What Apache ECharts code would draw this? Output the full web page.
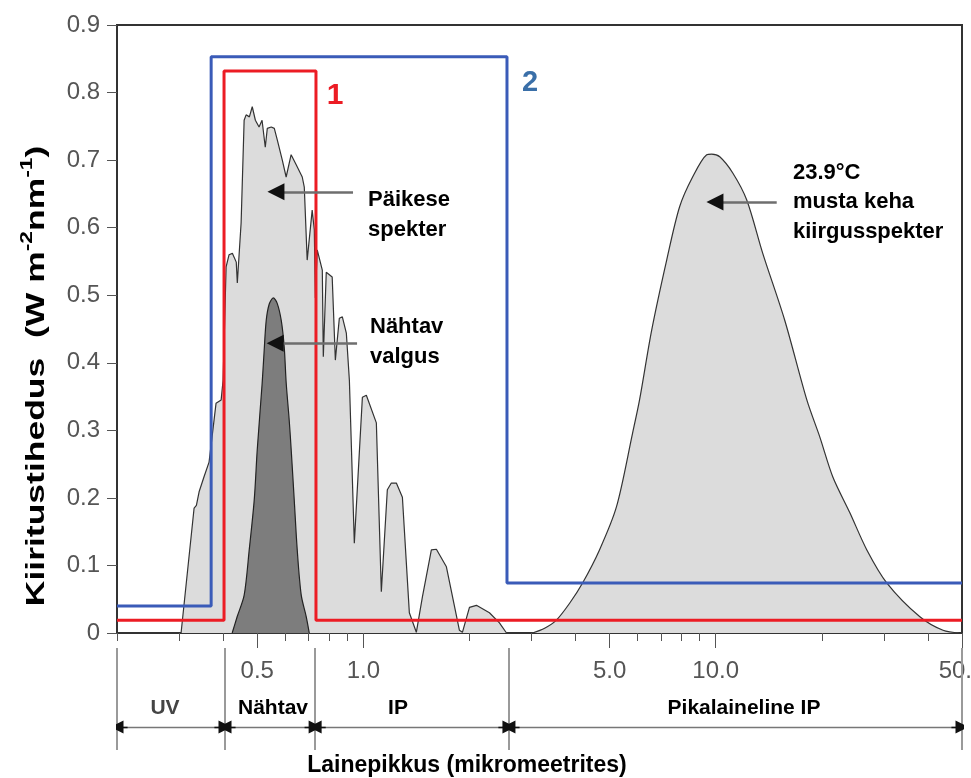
<!DOCTYPE html>
<html><head><meta charset="utf-8">
<script src="https://cdn.jsdelivr.net/npm/echarts@6.0.0/dist/echarts.min.js"></script>
<style>html,body{margin:0;padding:0;background:#fff}#c{width:971px;height:778px}</style>
</head><body><div id="c"></div>
<script>
// ---- data (wavelength in micrometres, irradiance W m-2 nm-1) ----
const xMinWl = 0.2, xMaxWl = 50;
const yTicks = [0, 0.1, 0.2, 0.3, 0.4, 0.5, 0.6, 0.7, 0.8, 0.9];
const xLabelWl = [0.5, 1, 5, 10, 50];
const xMinorWl = [0.2,0.3,0.4,0.5,0.6,0.7,0.8,0.9,1,2,3,4,5,6,7,8,9,10,20,30,40,50];

const sunWl = [0.304,0.331,0.336,0.342,0.353,0.365,0.382,0.395,0.400,0.408,0.416,0.425,0.436,0.439,0.450,0.459,0.465,0.475,0.484,0.494,0.506,0.516,0.527,0.534,0.548,0.559,0.570,0.589,0.604,0.624,0.645,0.671,0.680,0.693,0.716,0.726,0.731,0.740,0.765,0.770,0.785,0.816,0.833,0.855,0.872,0.895,0.913,0.943,0.994,1.020,1.089,1.125,1.170,1.201,1.241,1.291,1.351,1.414,1.471,1.560,1.612,1.721,1.874,1.911,2.001,2.094,2.280,2.434,2.549];
const sunVal = [0,0.185,0.189,0.209,0.231,0.253,0.340,0.345,0.374,0.542,0.560,0.562,0.549,0.518,0.607,0.759,0.767,0.764,0.779,0.759,0.749,0.759,0.719,0.747,0.749,0.747,0.730,0.700,0.675,0.708,0.693,0.675,0.660,0.552,0.626,0.597,0.496,0.567,0.537,0.409,0.534,0.527,0.404,0.466,0.468,0.444,0.374,0.133,0.349,0.352,0.311,0.061,0.212,0.222,0.222,0.201,0.030,0.001,0.053,0.123,0.124,0.098,0.004,0.001,0.038,0.041,0.030,0.015,0];

const visWl = [0.4245,0.4385,0.4591,0.4745,0.4903,0.500,0.5164,0.5233,0.5303,0.5408,0.5553,0.5697,0.5848,0.5965,0.6042,0.6162,0.6243,0.6368,0.6494,0.6666,0.6888,0.7025];
const visVal = [0,0.024,0.056,0.123,0.197,0.271,0.370,0.419,0.463,0.487,0.496,0.488,0.463,0.423,0.370,0.315,0.271,0.197,0.123,0.056,0.024,0];

const bbWl = [3.02,3.27,3.53,3.85,4.19,4.68,5.23,5.81,6.08,6.58,7.26,7.90,8.60,9.43,9.74,10.27,11.18,12.25,13.60,15.70,18.14,19.75,21.50,24.03,26.85,30.61,37.97,44.16,49.34];
const bbVal = [0,0.007,0.019,0.044,0.074,0.123,0.187,0.296,0.345,0.448,0.552,0.631,0.675,0.708,0.709,0.705,0.681,0.641,0.562,0.463,0.345,0.290,0.231,0.178,0.123,0.074,0.024,0.004,0];

const box1Wl = [0.2,0.4025,0.4025,0.734,0.734,50];
const box1Val = [0.019,0.019,0.832,0.832,0.019,0.019];
const box2Wl = [0.2,0.370,0.370,2.557,2.557,50];
const box2Val = [0.040,0.040,0.853,0.853,0.074,0.074];

// annotation arrows: [tailWl, tipWl, value]
const arrowSun = [0.935, 0.565, 0.653];
const arrowVis = [0.960, 0.562, 0.429];
const arrowBB = [14.9, 9.95, 0.638];

const bandEdges = [0.2, 0.405, 0.73, 2.59, 50];
const bandNames = ['UV', 'Nähtav', 'IP', 'Pikalaineline IP'];

// ---- build ----
const L = Math.log10;
const pts = (w, v) => w.map((x, i) => [L(x), v[i]]);
const FONT = '"Liberation Sans", Arial, sans-serif';

const headLen = 0.02; // log units: short black segment hidden under each arrow head
function arrowHeads(list){
  return list.map(a => ({coords: [[L(a[1]) + headLen*(a[0]>a[1]?1:-1), a[2]], [L(a[1]), a[2]]]}));
}
const annLines = [arrowSun, arrowVis, arrowBB].map(a => ({coords: [[L(a[0]), a[2]], [L(a[1]), a[2]]]}));

const bandY = 0.2255;
const bandHead = 0.03;
const bandV = bandEdges.map(b => ({coords: [[L(b), 0], [L(b), 1]]}));
const bandH = [];
const bandHeads = [];
for (let i = 0; i < bandEdges.length - 1; i++) {
  const a = L(bandEdges[i]), b = L(bandEdges[i+1]);
  bandH.push({coords: [[a, bandY], [b, bandY]]});
  bandHeads.push({coords: [[a + bandHead, bandY], [a, bandY]]});
  bandHeads.push({coords: [[b - bandHead, bandY], [b, bandY]]});
}

const chart = echarts.init(document.getElementById('c'), null, {renderer: 'canvas'});
chart.setOption({
  animation: false,
  backgroundColor: '#fff',
  grid: [
    {left: 117, right: 9, top: 25, bottom: 145, show: true, borderColor: '#333', borderWidth: 2,
     backgroundColor: 'transparent', containLabel: false, outerBoundsMode: 'none'},
    {left: 117, right: 9, top: 648, height: 102, show: false, containLabel: false, outerBoundsMode: 'none'}
  ],
  xAxis: [
    {type: 'value', gridIndex: 0, min: L(xMinWl), max: L(xMaxWl), position: 'bottom',
     axisLine: {show: true, onZero: false, lineStyle: {color: '#333', width: 2}},
     axisTick: {show: true, length: 8, lineStyle: {color: '#555', width: 1}, customValues: xMinorWl.map(L)},
     axisLabel: {show: false}, splitLine: {show: false}},
    {type: 'value', gridIndex: 0, min: L(xMinWl), max: L(xMaxWl), position: 'bottom',
     axisLine: {show: false, onZero: false},
     axisTick: {show: true, length: 15, lineStyle: {color: '#555', width: 1}, customValues: xLabelWl.map(L)},
     axisLabel: {show: true, customValues: xLabelWl.map(L), margin: 26, fontSize: 24, color: '#555', fontFamily: FONT,
       formatter: v => Math.pow(10, v).toFixed(1)},
     splitLine: {show: false}},
    {type: 'value', gridIndex: 1, min: L(xMinWl), max: L(xMaxWl), show: false}
  ],
  yAxis: [
    {type: 'value', gridIndex: 0, min: 0, max: 0.9, interval: 0.1, position: 'left',
     axisLine: {show: true, onZero: false, lineStyle: {color: '#333', width: 2}},
     axisTick: {show: true, length: 10, lineStyle: {color: '#555', width: 1}},
     axisLabel: {margin: 17, fontSize: 24, color: '#555', fontFamily: FONT},
     splitLine: {show: false}},
    {type: 'value', gridIndex: 1, min: 0, max: 1, show: false}
  ],
  graphic: [
    {type: 'text', x: 37, y: 376, rotation: Math.PI / 2, scaleX: 1.42,
     style: {text: '{b|Kiiritustihedus  (W m}{s|-2}{b|nm}{s|-1}{b|)}', align: 'center', verticalAlign: 'middle',
       rich: {
         b: {font: 'bold 25px ' + FONT, fill: '#000', lineHeight: 34},
         s: {font: 'bold 16px ' + FONT, fill: '#000', lineHeight: 34, verticalAlign: 'top'}
       }}},
    {type: 'text', x: 368, y: 185, style: {text: 'Päikese\nspekter', font: 'bold 22px ' + FONT, lineHeight: 30, fill: '#000'}},
    {type: 'text', x: 370, y: 312, style: {text: 'Nähtav\nvalgus', font: 'bold 22px ' + FONT, lineHeight: 30, fill: '#000'}},
    {type: 'text', x: 793, y: 158, style: {text: '23.9°C\nmusta keha\nkiirgusspekter', font: 'bold 22px ' + FONT, lineHeight: 29.5, fill: '#000'}},
    {type: 'text', x: 335, y: 96, style: {text: '1', font: 'bold 30px ' + FONT, fill: '#ec1c24', align: 'center', verticalAlign: 'middle'}},
    {type: 'text', x: 530, y: 83, style: {text: '2', font: 'bold 29px ' + FONT, fill: '#3a6fa8', align: 'center', verticalAlign: 'middle'}},
    {type: 'text', x: 165, y: 708, style: {text: bandNames[0], font: 'bold 21px ' + FONT, fill: '#444', align: 'center', verticalAlign: 'middle'}},
    {type: 'text', x: 273, y: 708, style: {text: bandNames[1], font: 'bold 21px ' + FONT, fill: '#000', align: 'center', verticalAlign: 'middle'}},
    {type: 'text', x: 398, y: 708, style: {text: bandNames[2], font: 'bold 21px ' + FONT, fill: '#000', align: 'center', verticalAlign: 'middle'}},
    {type: 'text', x: 744, y: 708, style: {text: bandNames[3], font: 'bold 21px ' + FONT, fill: '#000', align: 'center', verticalAlign: 'middle'}},
    {type: 'text', x: 467, y: 766, style: {text: 'Lainepikkus (mikromeetrites)', font: 'bold 23px ' + FONT, fill: '#000', align: 'center', verticalAlign: 'middle'}}
  ],
  series: [
    {type: 'line', name: 'Päikese spekter', xAxisIndex: 0, yAxisIndex: 0, data: pts(sunWl, sunVal), showSymbol: false, symbol: 'none',
     lineStyle: {color: '#333', width: 1.2}, areaStyle: {color: '#dcdcdc', opacity: 1}, z: 2},
    {type: 'line', name: 'Nähtav valgus', xAxisIndex: 0, yAxisIndex: 0, data: pts(visWl, visVal), showSymbol: false, symbol: 'none', smooth: 0.3,
     lineStyle: {color: '#222', width: 1.2}, areaStyle: {color: '#7d7d7d', opacity: 1}, z: 3},
    {type: 'line', name: 'Must keha', xAxisIndex: 0, yAxisIndex: 0, data: pts(bbWl, bbVal), showSymbol: false, symbol: 'none', smooth: 0.3,
     lineStyle: {color: '#333', width: 1.2}, areaStyle: {color: '#dcdcdc', opacity: 1}, z: 2},
    {type: 'line', name: '2', xAxisIndex: 0, yAxisIndex: 0, data: pts(box2Wl, box2Val), showSymbol: false, symbol: 'none',
     lineStyle: {color: '#3a5bb8', width: 3}, z: 4},
    {type: 'line', name: '1', xAxisIndex: 0, yAxisIndex: 0, data: pts(box1Wl, box1Val), showSymbol: false, symbol: 'none',
     lineStyle: {color: '#ec1c24', width: 3}, z: 5},
    {type: 'lines', coordinateSystem: 'cartesian2d', xAxisIndex: 0, yAxisIndex: 0, data: annLines, symbol: 'none',
     lineStyle: {color: '#6e6e6e', width: 2.5, opacity: 1}, z: 6, silent: true},
    {type: 'lines', coordinateSystem: 'cartesian2d', xAxisIndex: 0, yAxisIndex: 0, data: arrowHeads([arrowSun, arrowVis, arrowBB]),
     symbol: ['none', 'triangle'], symbolSize: [14, 17], symbolOffset: [0, 8.5],
     lineStyle: {color: '#111', width: 2.5, opacity: 1}, z: 7, silent: true},
    {type: 'lines', coordinateSystem: 'cartesian2d', xAxisIndex: 2, yAxisIndex: 1, data: bandV, symbol: 'none',
     lineStyle: {color: '#9a9a9a', width: 2, opacity: 1}, silent: true},
    {type: 'lines', coordinateSystem: 'cartesian2d', xAxisIndex: 2, yAxisIndex: 1, data: bandH, symbol: 'none',
     lineStyle: {color: '#777', width: 1.3, opacity: 1}, silent: true},
    {type: 'lines', coordinateSystem: 'cartesian2d', xAxisIndex: 2, yAxisIndex: 1, data: bandHeads,
     symbol: ['none', 'triangle'], symbolSize: [13, 13], symbolOffset: [0, 6.5],
     lineStyle: {color: '#111', width: 1.3, opacity: 1}, silent: true}
  ]
});
</script></body></html>
